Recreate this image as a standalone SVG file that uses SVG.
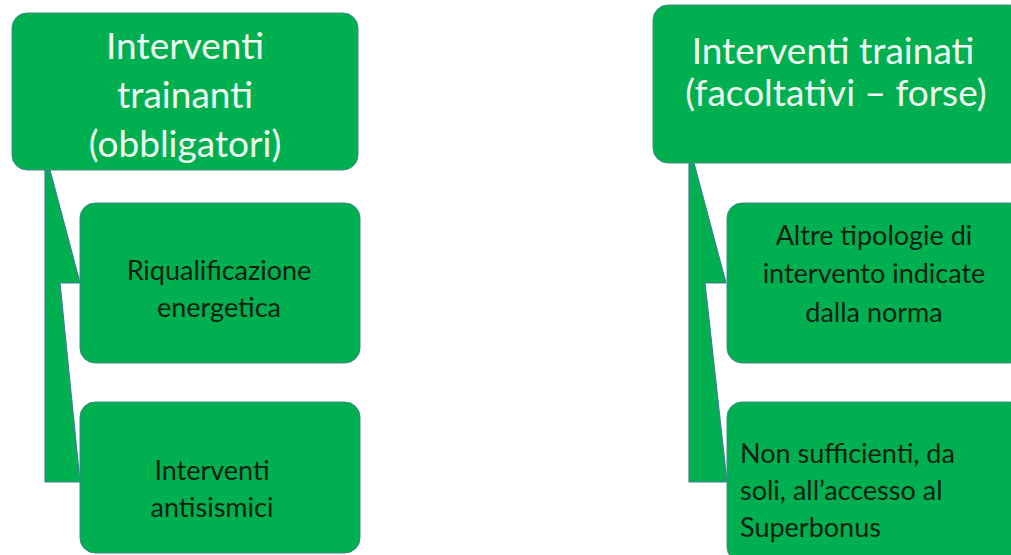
<svg xmlns="http://www.w3.org/2000/svg" width="1011" height="555" viewBox="0 0 1011 555">
<style>
.box{fill:#00b050;stroke:#3f8a8a;stroke-width:1}
.conn{fill:#00b050;stroke:#3f7f9a;stroke-width:1.2;stroke-linejoin:miter}
.hd{font-family:Lato,"Open Sans",sans-serif;font-size:37px;fill:#eefaf0;text-anchor:middle}
.ch{font-family:Lato,"Open Sans",sans-serif;font-size:27px;fill:#0c1f10;text-anchor:middle}
.chl{font-family:Lato,"Open Sans",sans-serif;font-size:27px;fill:#0c1f10}
</style>
<rect width="1011" height="555" fill="#ffffff"/>
<g id="connectors">
<path class="conn" d="M45,170 L50,170 L80,283 L60,283 L80,482 L45,482 Z"/>
<path class="conn" d="M689,163 L694,163 L726,283 L705,283 L727,482 L689,482 Z"/>
</g>
<g id="node-left-top">
<rect class="box" x="12" y="13" width="346" height="157" rx="15"/>
<text class="hd" x="185" y="59">Interventi</text>
<text class="hd" x="185" y="108">trainanti</text>
<text class="hd" x="185" y="157">(obbligatori)</text>
</g>
<g id="node-left-1">
<rect class="box" x="80" y="203" width="280" height="160" rx="15"/>
<text class="ch" x="219" y="280">Riqualificazione</text>
<text class="ch" x="219" y="317">energetica</text>
</g>
<g id="node-left-2">
<rect class="box" x="80" y="402" width="280" height="151" rx="15"/>
<text class="ch" x="212" y="480">Interventi</text>
<text class="ch" x="212" y="517">antisismici</text>
</g>
<g id="node-right-top">
<rect class="box" x="653" y="5" width="372" height="158" rx="15"/>
<text class="hd" x="833" y="64" font-size="35">Interventi trainati</text>
<text class="hd" x="836" y="106" font-size="35">(facoltativi – forse)</text>
</g>
<g id="node-right-1">
<rect class="box" x="727" y="203" width="298" height="160" rx="15"/>
<text class="ch" x="874" y="245">Altre tipologie di</text>
<text class="ch" x="874" y="283">intervento indicate</text>
<text class="ch" x="874" y="322">dalla norma</text>
</g>
<g id="node-right-2">
<rect class="box" x="727" y="402" width="298" height="160" rx="15"/>
<text class="chl" x="740" y="463">Non sufficienti, da</text>
<text class="chl" x="740" y="500">soli, all’accesso al</text>
<text class="chl" x="740" y="537">Superbonus</text>
</g>
</svg>
